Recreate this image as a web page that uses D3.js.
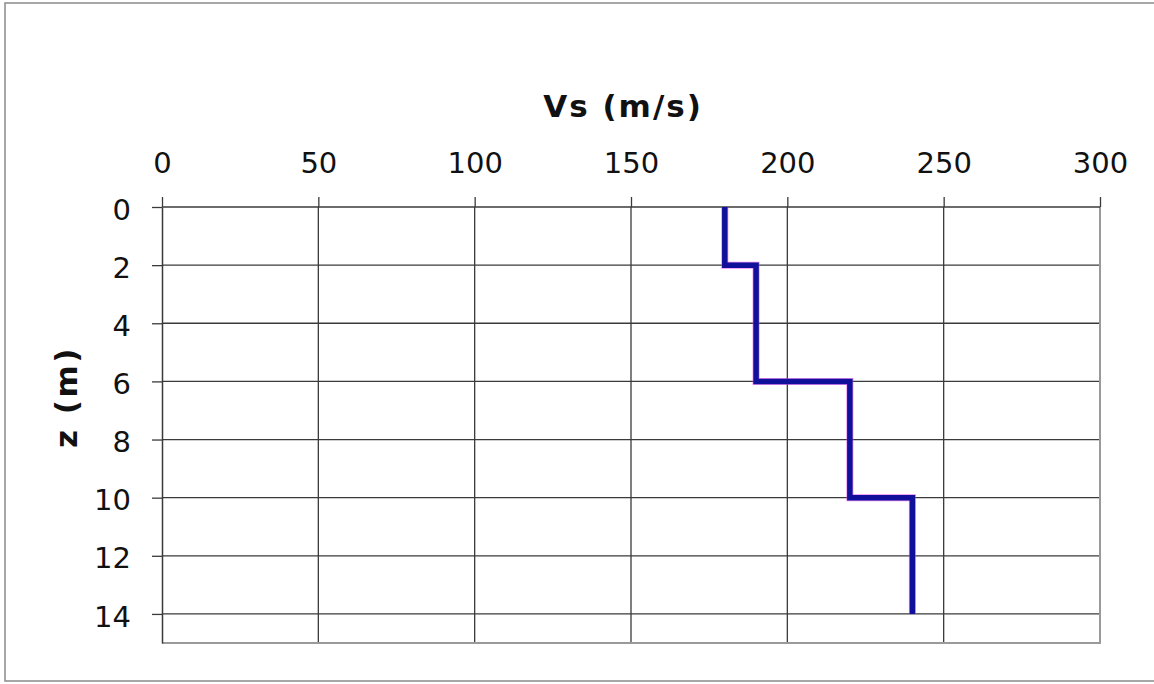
<!DOCTYPE html>
<html>
<head>
    <title>Vs profile</title>
    <style>
        body { margin: 0; background: #fff; }
        svg text { font-family: "DejaVu Sans", Verdana, sans-serif; fill: #111; }
    </style>
</head>
<body>
    <div id="chart"></div>
    <script src="https://d3js.org/d3.v7.min.js"></script>
    <script>
        // layers: top depth, bottom depth, shear wave velocity
        var layerTop = [0, 2, 6, 10];
        var layerBottom = [2, 6, 10, 14];
        var layerVs = [180, 190, 220, 240];

        var xTicks = [0, 50, 100, 150, 200, 250, 300];
        var yTicks = [0, 2, 4, 6, 8, 10, 12, 14];

        var width = 1154, height = 684;
        // plot area (note: "top" is reserved on window, so use other names)
        var pLeft = 162, pRight = 1100, pTop = 207, pBottom = 643;

        var svg = d3.select("#chart").append("svg")
            .attr("width", width)
            .attr("height", height);

        // outer frame
        svg.append("rect")
            .attr("x", 5).attr("y", 3)
            .attr("width", width).attr("height", 678)
            .attr("fill", "none")
            .attr("stroke", "#8a8a8a")
            .attr("stroke-width", 1.5);

        var x = d3.scaleLinear().domain([0, 300]).range([pLeft, pRight]);
        var y = d3.scaleLinear().domain([0, 15]).range([pTop, pBottom]);

        // grid lines
        svg.append("g").selectAll("line")
            .data(xTicks.slice(1, -1))
            .enter().append("line")
            .attr("x1", function (d) { return x(d); })
            .attr("x2", function (d) { return x(d); })
            .attr("y1", pTop).attr("y2", pBottom)
            .attr("stroke", "#3a3a3a").attr("stroke-width", 1.3);

        svg.append("g").selectAll("line")
            .data(yTicks.slice(1))
            .enter().append("line")
            .attr("x1", pLeft).attr("x2", pRight)
            .attr("y1", function (d) { return y(d); })
            .attr("y2", function (d) { return y(d); })
            .attr("stroke", "#3a3a3a").attr("stroke-width", 1.3);

        // right and bottom border (light)
        svg.append("path")
            .attr("d", "M" + pRight + "," + pTop + "V" + pBottom + "H" + pLeft)
            .attr("fill", "none")
            .attr("stroke", "#9a9a9a")
            .attr("stroke-width", 2);

        // axes
        var xAxis = svg.append("g")
            .attr("transform", "translate(0," + pTop + ")")
            .call(d3.axisTop(x).tickValues(xTicks).tickSize(10).tickSizeOuter(0).tickPadding(24));
        var yAxis = svg.append("g")
            .attr("transform", "translate(" + pLeft + ",0)")
            .call(d3.axisLeft(y).tickValues(yTicks).tickSize(10).tickSizeOuter(0).tickPadding(21));

        [xAxis, yAxis].forEach(function (a) {
            a.select(".domain").attr("stroke", "#3a3a3a").attr("stroke-width", 1.5);
            a.selectAll(".tick line").attr("stroke", "#3a3a3a").attr("stroke-width", 1.3);
            a.selectAll(".tick text")
                .attr("font-size", 29)
                .attr("fill", "#111")
                .style("font-family", "'DejaVu Sans', Verdana, sans-serif");
        });
        xAxis.select(".domain").attr("d", "M" + pLeft + ",0H" + pRight);
        yAxis.selectAll(".tick text").attr("dy", "0.42em");

        // titles
        svg.append("text")
            .attr("x", 623).attr("y", 117)
            .attr("text-anchor", "middle")
            .attr("font-size", 31)
            .attr("font-weight", "bold")
            .attr("letter-spacing", 2)
            .text("Vs (m/s)");

        svg.append("text")
            .attr("transform", "translate(77,397) rotate(-90)")
            .attr("text-anchor", "middle")
            .attr("font-size", 31)
            .attr("font-weight", "bold")
            .attr("letter-spacing", 2.5)
            .text("z (m)");

        // step profile built from the layers
        var pts = [];
        layerVs.forEach(function (v, i) {
            pts.push([v, layerTop[i]]);
            pts.push([v, layerBottom[i]]);
        });
        var line = d3.line()
            .x(function (d) { return x(d[0]); })
            .y(function (d) { return y(d[1]); });

        svg.append("path")
            .datum(pts)
            .attr("d", line)
            .attr("fill", "none")
            .attr("stroke", "#e040f0")
            .attr("stroke-opacity", 0.6)
            .attr("stroke-width", 7);
        svg.append("path")
            .datum(pts)
            .attr("d", line)
            .attr("fill", "none")
            .attr("stroke", "#10109a")
            .attr("stroke-width", 5.5);
    </script>
</body>
</html>
